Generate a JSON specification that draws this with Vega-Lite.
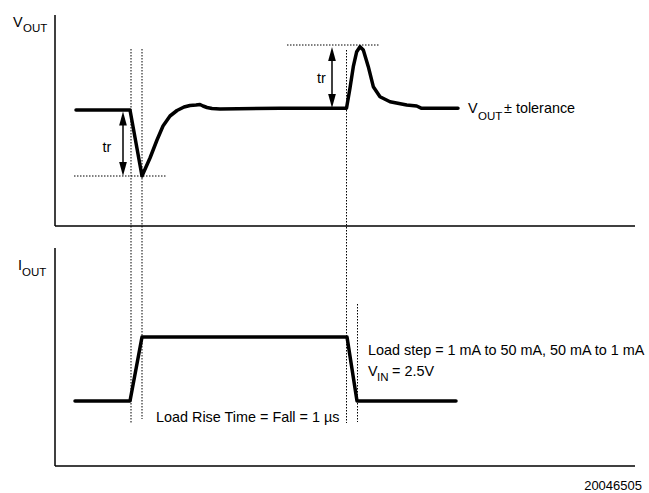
{
  "$schema": "https://vega.github.io/schema/vega-lite/v6.json",
  "width": 649,
  "height": 493,
  "autosize": {"type": "fit", "contains": "padding"},
  "padding": 0,
  "background": "white",
  "view": {"stroke": null},
  "config": {"text": {"font": "Liberation Sans", "color": "black"}},
  "datasets": {
    "axes": [
      {"x": 55, "y": 15, "x2": 55, "y2": 226},
      {"x": 55, "y": 226, "x2": 635, "y2": 226},
      {"x": 55, "y": 248, "x2": 55, "y2": 466},
      {"x": 55, "y": 466, "x2": 635, "y2": 466}
    ],
    "guides": [
      {"x": 131, "y": 49, "x2": 131, "y2": 423},
      {"x": 142, "y": 49, "x2": 142, "y2": 419},
      {"x": 346.5, "y": 50, "x2": 346.5, "y2": 423},
      {"x": 357.5, "y": 304, "x2": 357.5, "y2": 422},
      {"x": 74, "y": 176, "x2": 167, "y2": 176},
      {"x": 287, "y": 45, "x2": 379, "y2": 45}
    ],
    "shafts": [
      {"x": 123, "y": 118, "x2": 123, "y2": 169},
      {"x": 332, "y": 54, "x2": 332, "y2": 101}
    ],
    "heads": [
      {"x": 123, "y": 118.5, "dir": "up"},
      {"x": 123, "y": 169, "dir": "down"},
      {"x": 332, "y": 54, "dir": "up"},
      {"x": 332, "y": 101, "dir": "down"}
    ],
    "waves": [
      {"s": "vout", "i": 1, "x": 76, "y": 110},
      {"s": "vout", "i": 2, "x": 130, "y": 110},
      {"s": "vout", "i": 3, "x": 142, "y": 176},
      {"s": "vout", "i": 4, "x": 150, "y": 158},
      {"s": "vout", "i": 5, "x": 157, "y": 140},
      {"s": "vout", "i": 6, "x": 163, "y": 126},
      {"s": "vout", "i": 7, "x": 170, "y": 116},
      {"s": "vout", "i": 8, "x": 177, "y": 110.5},
      {"s": "vout", "i": 9, "x": 184, "y": 107},
      {"s": "vout", "i": 10, "x": 190, "y": 105.5},
      {"s": "vout", "i": 11, "x": 196, "y": 105},
      {"s": "vout", "i": 12, "x": 200, "y": 104.5},
      {"s": "vout", "i": 13, "x": 203, "y": 106},
      {"s": "vout", "i": 14, "x": 207, "y": 107.5},
      {"s": "vout", "i": 15, "x": 212, "y": 108.5},
      {"s": "vout", "i": 16, "x": 220, "y": 109},
      {"s": "vout", "i": 17, "x": 280, "y": 108.3},
      {"s": "vout", "i": 18, "x": 346.5, "y": 108.3},
      {"s": "vout", "i": 19, "x": 350, "y": 88},
      {"s": "vout", "i": 20, "x": 353.3, "y": 66.7},
      {"s": "vout", "i": 21, "x": 356.7, "y": 51.7},
      {"s": "vout", "i": 22, "x": 360, "y": 46.7},
      {"s": "vout", "i": 23, "x": 363.3, "y": 50},
      {"s": "vout", "i": 24, "x": 368.3, "y": 66.7},
      {"s": "vout", "i": 25, "x": 373.3, "y": 86.7},
      {"s": "vout", "i": 26, "x": 380, "y": 96.7},
      {"s": "vout", "i": 27, "x": 390, "y": 101.7},
      {"s": "vout", "i": 28, "x": 406.7, "y": 105},
      {"s": "vout", "i": 29, "x": 416.7, "y": 106},
      {"s": "vout", "i": 30, "x": 421.7, "y": 108.3},
      {"s": "vout", "i": 31, "x": 458, "y": 108.3},
      {"s": "iout", "i": 1, "x": 75, "y": 401},
      {"s": "iout", "i": 2, "x": 130, "y": 401},
      {"s": "iout", "i": 3, "x": 142, "y": 337},
      {"s": "iout", "i": 4, "x": 347, "y": 337},
      {"s": "iout", "i": 5, "x": 357, "y": 401},
      {"s": "iout", "i": 6, "x": 456, "y": 401}
    ],
    "labels": [
      {"x": 13, "y": 27, "t": "V"},
      {"x": 18, "y": 270, "t": "I"},
      {"x": 468, "y": 113, "t": "V"},
      {"x": 504, "y": 113, "t": "± tolerance"},
      {"x": 368, "y": 355, "t": "Load step = 1 mA to 50 mA, 50 mA to 1 mA"},
      {"x": 368, "y": 376, "t": "V"},
      {"x": 392, "y": 376, "t": "= 2.5V"},
      {"x": 156, "y": 422, "t": "Load Rise Time = Fall = 1 µs"}
    ],
    "trs": [
      {"x": 107, "y": 152, "t": "tr"},
      {"x": 321.5, "y": 83, "t": "tr"}
    ],
    "subs": [
      {"x": 23, "y": 32, "t": "OUT"},
      {"x": 22, "y": 276, "t": "OUT"},
      {"x": 478, "y": 120, "t": "OUT"},
      {"x": 377, "y": 381, "t": "IN"}
    ],
    "foot": [
      {"x": 642, "y": 490, "t": "20046505"}
    ]
  },
  "encoding": {
    "x": {"field": "x", "type": "quantitative", "scale": {"domain": [0, 649], "nice": false, "zero": false}, "axis": null},
    "y": {"field": "y", "type": "quantitative", "scale": {"domain": [0, 493], "nice": false, "zero": false, "reverse": true}, "axis": null}
  },
  "layer": [
    {
      "data": {"name": "axes"},
      "mark": {"type": "rule", "color": "black", "strokeWidth": 1.5},
      "encoding": {"x2": {"field": "x2"}, "y2": {"field": "y2"}}
    },
    {
      "data": {"name": "guides"},
      "mark": {"type": "rule", "color": "black", "strokeWidth": 1, "strokeDash": [1.5, 1.5]},
      "encoding": {"x2": {"field": "x2"}, "y2": {"field": "y2"}}
    },
    {
      "data": {"name": "shafts"},
      "mark": {"type": "rule", "color": "black", "strokeWidth": 1.5},
      "encoding": {"x2": {"field": "x2"}, "y2": {"field": "y2"}}
    },
    {
      "data": {"name": "heads"},
      "mark": {"type": "point", "filled": true, "color": "black", "opacity": 1, "size": 196},
      "encoding": {
        "shape": {"field": "dir", "type": "nominal", "scale": {"domain": ["up", "down"], "range": ["M0,-1L0.55,1L-0.55,1Z", "M0,1L0.55,-1L-0.55,-1Z"]}, "legend": null}
      }
    },
    {
      "data": {"name": "waves"},
      "mark": {"type": "line", "color": "black", "strokeWidth": 3.5, "strokeJoin": "round", "strokeCap": "round"},
      "encoding": {"detail": {"field": "s"}, "order": {"field": "i", "type": "quantitative"}}
    },
    {
      "data": {"name": "labels"},
      "mark": {"type": "text", "fontSize": 14.4, "align": "left", "baseline": "alphabetic"},
      "encoding": {"text": {"field": "t"}}
    },
    {
      "data": {"name": "trs"},
      "mark": {"type": "text", "fontSize": 14.4, "align": "center", "baseline": "alphabetic"},
      "encoding": {"text": {"field": "t"}}
    },
    {
      "data": {"name": "subs"},
      "mark": {"type": "text", "fontSize": 11.5, "align": "left", "baseline": "alphabetic"},
      "encoding": {"text": {"field": "t"}}
    },
    {
      "data": {"name": "foot"},
      "mark": {"type": "text", "fontSize": 13, "align": "right", "baseline": "alphabetic"},
      "encoding": {"text": {"field": "t"}}
    }
  ]
}
